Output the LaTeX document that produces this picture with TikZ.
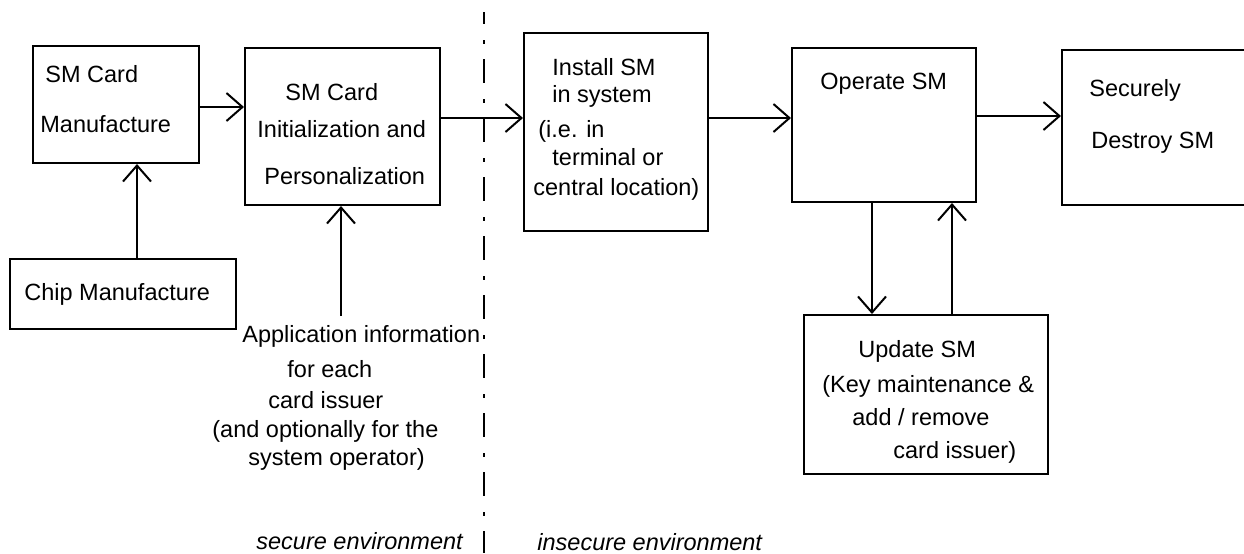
\documentclass[tikz,border=0pt]{standalone}
\usepackage{fontspec}
\setmainfont{Liberation Sans}
\usetikzlibrary{arrows.meta,calc}

\begin{document}
\begin{tikzpicture}[x=0.5pt,y=-0.5pt,
  box/.style={draw, line width=1pt, rectangle, inner sep=0pt},
  txt/.style={anchor=base west, inner sep=0pt, font=\fontsize{11.75}{14}\selectfont},
  itxt/.style={txt, font=\fontsize{11.75}{14}\selectfont\itshape},
  flow/.style={line width=1pt, -{Straight Barb[length=8pt,width=14pt,line width=1pt]}},
  envline/.style={line width=0.6pt, dash pattern=on 12pt off 8pt on 2pt off 7.5pt, dash phase=6pt}]

\useasboundingbox (0,0) rectangle (1244,553);
\clip (0,0) rectangle (1244,553);

% process boxes
\node[box, minimum width=83pt,  minimum height=58.5pt] (manuf)   at (116,104.5) {};
\node[box, minimum width=97.5pt,minimum height=78.5pt] (init)    at (342.5,126.5) {};
\node[box, minimum width=92pt,  minimum height=99pt]   (install) at (616,132) {};
\node[box, minimum width=92pt,  minimum height=77pt]   (operate) at (884,125) {};
\node[box, minimum width=200pt, minimum height=77.5pt] (destroy) at (1262,127.5) {};
\node[box, minimum width=113pt, minimum height=35pt]   (chip)    at (123,294) {};
\node[box, minimum width=122pt, minimum height=79.5pt] (update)  at (926,394.5) {};

% box texts
\node[txt] (manufA) at (45,82)  {SM Card};
\node[txt] (manufB) at (40,132) {Manufacture};

\node[txt] (initA) at (285,100) {SM Card};
\node[txt] (initB) at (257,137) {Initialization and};
\node[txt] (initC) at (264,184) {Personalization};

\node[txt] (instA) at (552,75)  {Install SM};
\node[txt] (instB) at (552,102) {in system};
\node[txt] (instC) at (538,137) {(i.e. in};
\node[txt] (instD) at (552,165) {terminal or};
\node[txt] (instE) at (533,195) {central location)};

\node[txt] (operA) at (820,89) {Operate SM};

\node[txt] (destA) at (1089,96)  {Securely};
\node[txt] (destB) at (1091,148) {Destroy SM};

\node[txt] (chipA) at (24,300) {Chip Manufacture};

\node[txt] (updA) at (858,357) {Update SM};
\node[txt] (updB) at (822,392) {(Key maintenance \&};
\node[txt] (updC) at (852,425) {add / remove};
\node[txt] (updD) at (893,458) {card issuer)};

% application data feeding the personalization step
\node[txt] (appA) at (242,342) {Application information};
\node[txt] (appB) at (287,377) {for each};
\node[txt] (appC) at (268,408) {card issuer};
\node[txt] (appD) at (212,437) {(and optionally for the};
\node[txt] (appE) at (248,465) {system operator)};
\coordinate (appin) at (341,316);

% environment boundary
\coordinate (envtop) at (484,12);
\coordinate (envbot) at (484,553);
\draw[envline] (envtop) -- (envbot);
\node[itxt] (secure)   at (256,549) {secure environment};
\node[itxt] (insecure) at (537,550) {insecure environment};

% connector start points on the box sides
\coordinate (s1) at ($(manuf.east)+(0,2.5)$);
\coordinate (s2) at ($(init.east)+(0,-8.5)$);
\coordinate (s3) at ($(install.east)+(0,-14)$);
\coordinate (s4) at ($(operate.east)+(0,-9)$);
\coordinate (s5) at ($(chip.north)+(14,0)$);
\coordinate (s6) at ($(operate.south)+(-12,0)$);
\coordinate (s7) at ($(update.north)+(26,0)$);

% flow connectors
\draw[flow] (s1) -- (s1 -| init.west);
\draw[flow] (s2) -- (s2 -| install.west);
\draw[flow] (s3) -- (s3 -| operate.west);
\draw[flow] (s4) -- (s4 -| destroy.west);
\draw[flow] (s5) -- (s5 |- manuf.south);
\draw[flow] (appin) -- (appin |- init.south);
\draw[flow] (s6) -- (s6 |- update.north);
\draw[flow] (s7) -- (s7 |- operate.south);
\end{tikzpicture}
\end{document}
